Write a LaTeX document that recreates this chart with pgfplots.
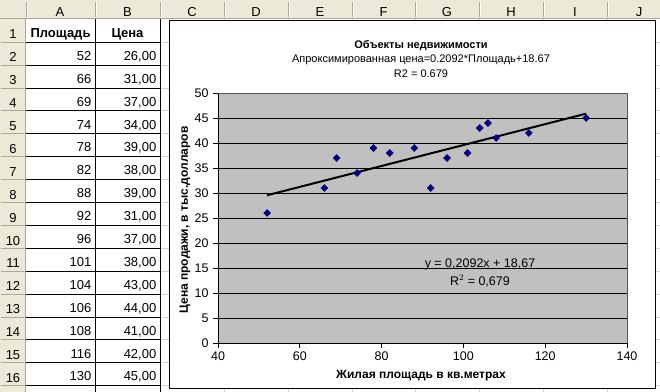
\documentclass[border=0pt]{standalone}
\usepackage{pgfplots}
\pgfplotsset{compat=1.18}
\usepackage{fontspec}
\setmainfont{Liberation Sans}
\definecolor{plotgray}{HTML}{C0C0C0}
\definecolor{navy}{HTML}{000080}
\definecolor{hdr}{HTML}{ECE9D8}
\definecolor{hdrline}{HTML}{ACA899}
\definecolor{sheetgrid}{HTML}{D4D4D4}
\newcommand\fs[1]{\fontsize{#1bp}{#1bp}\selectfont}
\def\rh{22.9}
\begin{document}
\begin{tikzpicture}[x=1bp,y=-1bp]
\path[use as bounding box] (0,0) rectangle (660,391);
\clip (0,0) rectangle (660,391);
\fill[white] (0,0) rectangle (660,391);
% headers
\fill[hdr] (0,0) rectangle (660,19);
\fill[hdr] (0,19) rectangle (26,392);
% sheet grid in columns C..J
\foreach \k in {1,...,16} \draw[sheetgrid] (160,{19+\rh*\k}) -- (660,{19+\rh*\k});
\foreach \xx in {224,288,352,415,479,543,607} \draw[sheetgrid] (\xx,19) -- (\xx,392);
% header separators
\foreach \xx in {26,95,160,224,288,352,415,479,543,607} {\draw[hdrline] (\xx,2) -- (\xx,17); \draw[white] (\xx+1,2) -- (\xx+1,17);}
\draw[hdrline] (0,18.5) -- (660,18.5);
\foreach \k in {1,...,16} \draw[hdrline] (1,{19+\rh*\k}) -- (25,{19+\rh*\k});
\draw[hdrline] (25.5,19) -- (25.5,392);
\foreach \l/\xx in {A/60,B/127.5,C/192,D/256,E/320,F/383.5,G/447,H/511,I/575,J/639}
  \node[anchor=base,font=\fs{13},inner sep=0] at (\xx,16) {\l};
\foreach \k in {1,...,16}
  \node[anchor=base,font=\fs{13},inner sep=0] at (13,{19+\rh*\k-3}) {\k};
% table borders
\foreach \k in {1,...,16} \draw[black] (26,{19+\rh*\k}) -- (160,{19+\rh*\k});
\draw[black] (95,19) -- (95,392);
\draw[black] (160,19) -- (160,392);
% table contents
\node[anchor=base,font=\bfseries\fs{13},inner sep=0] at (60.5,{19+\rh-4.5}) {Площадь};
\node[anchor=base,font=\bfseries\fs{13},inner sep=0] at (127.5,{19+\rh-4.5}) {Цена};
\foreach \k/\a/\b in {2/52/{26,00},3/66/{31,00},4/69/{37,00},5/74/{34,00},6/78/{39,00},7/82/{38,00},8/88/{39,00},9/92/{31,00},10/96/{37,00},11/101/{38,00},12/104/{43,00},13/106/{44,00},14/108/{41,00},15/116/{42,00},16/130/{45,00}}
{
  \node[anchor=base east,font=\fs{13},inner sep=0] at (91.5,{19+\rh*\k-4.5}) {\a};
  \node[anchor=base east,font=\fs{13},inner sep=0] at (156.5,{19+\rh*\k-4.5}) {\b};
}
% chart area
\draw[black, fill=white] (169.5,20.5) rectangle (655.5,388.5);
\node[anchor=base,font=\bfseries\fs{11},inner sep=0] at (421,48) {Объекты недвижимости};
\node[anchor=base,font=\fs{11},inner sep=0] at (421,62) {Апроксимированная цена=0.2092*Площадь+18.67};
\node[anchor=base,font=\fs{11},inner sep=0] at (421,77) {R2 = 0.679};
\begin{axis}[
  at={(218bp,-343bp)}, anchor=south west, scale only axis,
  width=409bp, height=250bp,
  xmin=40, xmax=140, ymin=0, ymax=50,
  xtick={40,60,...,140}, ytick={0,5,...,50},
  axis lines=left, axis line style={-, black, line width=0.8bp},
  tick align=outside, major tick length=5bp,
  tick style={black, line width=0.8bp},
  axis background/.style={fill=plotgray},
  ymajorgrids, grid style={black, line width=0.8bp},
  ticklabel style={font=\fs{12.5}},
  yticklabel style={xshift=-1bp},
  /pgf/number format/assume math mode=true,
  clip=false,
]
\draw[gray!70!black, line width=0.8bp] (rel axis cs:0,1) -- (rel axis cs:1,1) -- (rel axis cs:1,0);
\addplot[black, line width=2bp] coordinates {(52,29.55) (130,45.87)};
\addplot[only marks, mark=square*, mark size=2.5bp, mark options={rotate=45, fill=navy, draw=navy}]
  coordinates {(52,26) (66,31) (69,37) (74,34) (78,39) (82,38) (88,39) (92,31) (96,37) (101,38) (104,43) (106,44) (108,41) (116,42) (130,45)};
\end{axis}
\node[anchor=base,font=\fs{12.5},inner sep=0] at (480,267) {y = 0,2092x + 18,67};
\node[anchor=base,font=\fs{12.5},inner sep=0] at (480,285) {R$^2$ = 0,679};
\node[anchor=base,font=\bfseries\fs{12},inner sep=0] at (421,378) {Жилая площадь в кв.метрах};
\node[anchor=center,rotate=90,font=\bfseries\fs{12},inner sep=0] at (185,220) {Цена продажи, в тыс.долларов};
\end{tikzpicture}
\end{document}
